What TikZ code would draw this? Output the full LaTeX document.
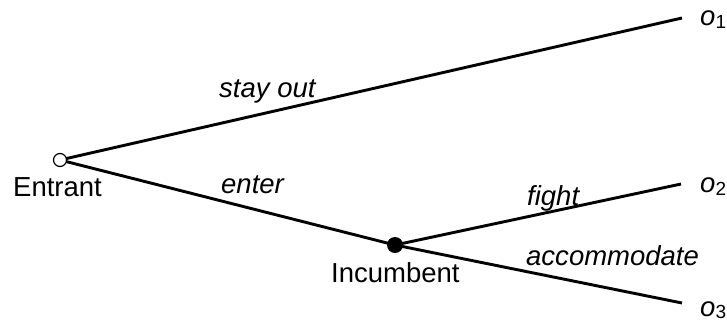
\documentclass[tikz,border=0pt]{standalone}
\usepackage{fontspec}
\setmainfont{Liberation Sans}
\begin{document}
\begin{tikzpicture}[x=1pt,y=-1pt,
  lbl/.style={anchor=base west,inner sep=0pt,font=\fontsize{27.5}{30}\selectfont},
  act/.style={lbl,font=\fontsize{27.5}{30}\selectfont\itshape},
  edge/.style={line width=2.9pt},
  opennode/.style={circle,draw,line width=1.2pt,fill=white,minimum size=13pt,inner sep=0pt},
  solidnode/.style={circle,fill=black,minimum size=16pt,inner sep=0pt}]
\useasboundingbox (0,0) rectangle (727,322);
\coordinate (t1) at (682,18);
\coordinate (t2) at (681,184);
\coordinate (t3) at (682,303);
\node[solidnode] (I) at (395,245) {};
\draw[edge] (60,160) coordinate (Ec) -- (t1);
\draw[edge] (Ec) -- (I.center);
\draw[edge] (I.center) -- (t2);
\draw[edge] (I.center) -- (t3);
\node[opennode] (E) at (Ec) {};
\node[lbl] (Elab) at (13,196) {Entrant};
\node[lbl] (Ilab) at (331,282) {Incumbent};
\node[act] (so) at (219,97) {stay out};
\node[act] (en) at (221,193) {enter};
\node[act] (fi) at (527,205) {fight};
\node[act] (ac) at (526,265) {accommodate};
\node[act] (o1) at (700,25) {o\raisebox{-0.25ex}{\upshape\fontsize{19}{20}\selectfont 1}};
\node[act] (o2) at (700,192) {o\raisebox{-0.25ex}{\upshape\fontsize{19}{20}\selectfont 2}};
\node[act] (o3) at (700,316) {o\raisebox{-0.2ex}{\upshape\fontsize{19}{20}\selectfont 3}};
\end{tikzpicture}
\end{document}
